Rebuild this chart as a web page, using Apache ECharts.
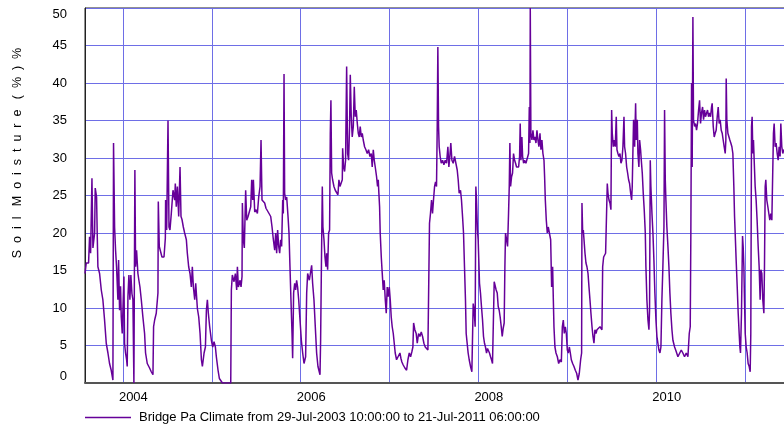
<!DOCTYPE html>
<html>
<head>
<meta charset="utf-8">
<script src="https://cdn.jsdelivr.net/npm/echarts@6/dist/echarts.min.js"></script>
<style>
html,body{margin:0;padding:0;background:#fff;}
#chart{width:784px;height:429px;}
</style>
</head>
<body>
<div id="chart"></div>
<script>
// Time of each reading (decimal years) and soil moisture (%)
const years = [
2003.574,2003.588,2003.614,2003.625,2003.637,2003.652,2003.663,2003.682,2003.689,2003.704,2003.712,2003.719,2003.738,2003.757,2003.775,2003.794,2003.813,2003.832,2003.850,2003.869,2003.888,2003.895,2003.907,2003.918,2003.929,2003.944,2003.952,2003.963,2003.974,2003.982,2003.993,2004.004,2004.012,2004.019,2004.030,2004.042,2004.049,2004.057,2004.068,2004.079,2004.090,2004.102,2004.113,2004.124,2004.135,2004.143,2004.154,2004.169,2004.180,2004.192,2004.207,2004.225,2004.244,2004.255,2004.274,2004.300,2004.319,2004.338,2004.345,2004.357,2004.375,2004.394,2004.398,2004.409,2004.420,2004.439,2004.462,2004.477,2004.480,2004.492,2004.507,2004.518,2004.529,2004.544,2004.563,2004.582,2004.589,2004.600,2004.612,2004.627,2004.642,2004.653,2004.664,2004.679,2004.694,2004.713,2004.724,2004.739,2004.754,2004.769,2004.780,2004.792,2004.807,2004.818,2004.837,2004.852,2004.867,2004.882,
2004.893,2004.912,2004.927,2004.938,2004.949,2004.960,2004.975,2004.994,2005.009,2005.024,2005.039,2005.050,2005.069,2005.084,2005.099,2005.118,2005.212,2005.219,2005.230,2005.249,2005.264,2005.279,2005.287,2005.298,2005.317,2005.328,2005.339,2005.343,2005.354,2005.365,2005.380,2005.392,2005.407,2005.422,2005.437,2005.448,2005.459,2005.467,2005.482,2005.497,2005.512,2005.527,2005.542,2005.553,2005.564,2005.579,2005.594,2005.609,2005.624,2005.643,2005.662,2005.677,2005.692,2005.707,2005.718,2005.729,2005.740,2005.752,2005.763,2005.774,2005.785,2005.797,2005.804,2005.812,2005.819,2005.830,2005.842,2005.857,2005.868,2005.879,2005.890,2005.902,2005.909,2005.920,2005.932,2005.943,2005.954,2005.965,2005.977,2005.992,2006.007,2006.022,2006.037,2006.055,2006.067,2006.078,2006.097,2006.123,2006.134,2006.149,2006.164,2006.179,2006.194,
2006.217,2006.224,2006.232,2006.243,2006.250,2006.262,2006.273,2006.284,2006.292,2006.303,2006.314,2006.325,2006.333,2006.340,2006.348,2006.359,2006.374,2006.389,2006.404,2006.419,2006.430,2006.442,2006.457,2006.468,2006.472,2006.483,2006.494,2006.505,2006.517,2006.528,2006.539,2006.550,2006.558,2006.569,2006.580,2006.592,2006.603,2006.614,2006.625,2006.637,2006.648,2006.659,2006.670,2006.682,2006.693,2006.704,2006.719,2006.734,2006.749,2006.764,2006.779,2006.794,2006.805,2006.817,2006.828,2006.839,2006.854,2006.865,2006.873,2006.880,2006.888,2006.895,2006.907,2006.918,2006.929,2006.940,2006.952,2006.963,2006.974,2006.985,2006.997,2007.008,2007.019,2007.030,2007.042,2007.053,2007.064,2007.079,2007.098,2007.117,2007.128,2007.139,2007.154,2007.173,2007.192,2007.207,2007.222,2007.237,2007.252,2007.263,2007.271,2007.285,2007.300,2007.312,2007.327,2007.342,2007.357,2007.372,2007.387,2007.402,2007.417,2007.432,2007.443,2007.450,2007.461,2007.473,
2007.484,2007.495,2007.507,2007.518,2007.529,2007.537,2007.544,2007.552,2007.559,2007.570,2007.582,2007.597,2007.612,2007.627,2007.642,2007.657,2007.668,2007.679,2007.690,2007.702,2007.717,2007.732,2007.747,2007.762,2007.773,2007.784,2007.799,2007.810,2007.822,2007.833,2007.844,2007.855,2007.863,2007.874,2007.885,2007.897,2007.912,2007.927,2007.934,2007.942,2007.953,2007.964,2007.972,2007.979,2007.990,2007.998,2008.005,2008.013,2008.024,2008.035,2008.047,2008.058,2008.069,2008.080,2008.092,2008.103,2008.114,2008.125,2008.137,2008.148,2008.159,2008.170,2008.178,2008.189,2008.200,2008.212,2008.223,2008.234,2008.245,2008.257,2008.268,2008.279,2008.290,2008.298,2008.305,2008.317,2008.328,2008.339,2008.347,2008.354,2008.362,2008.373,2008.384,2008.395,2008.407,2008.418,2008.429,2008.440,2008.452,2008.463,2008.470,2008.478,2008.489,2008.497,2008.508,2008.519,2008.534,2008.549,2008.564,2008.572,2008.579,2008.583,2008.590,2008.602,2008.613,2008.624,2008.635,2008.647,2008.658,2008.669,2008.680,2008.692,2008.703,2008.714,2008.725,2008.737,2008.744,2008.752,2008.763,2008.774,2008.785,
2008.800,2008.812,2008.823,2008.834,2008.842,2008.849,2008.860,2008.872,2008.887,2008.902,2008.917,2008.932,2008.943,2008.954,2008.965,2008.977,2008.988,2008.999,2009.010,2009.022,2009.033,2009.044,2009.059,2009.074,2009.089,2009.104,2009.119,2009.134,2009.149,2009.160,2009.164,2009.172,2009.179,2009.187,2009.198,2009.209,2009.220,2009.232,2009.243,2009.254,2009.265,2009.277,2009.288,2009.299,2009.310,2009.322,2009.333,2009.344,2009.355,2009.367,2009.378,2009.389,2009.397,2009.408,2009.419,2009.430,2009.442,2009.449,2009.457,2009.468,2009.479,2009.490,2009.498,2009.505,2009.517,2009.528,2009.539,2009.550,2009.558,2009.569,2009.580,2009.592,2009.603,2009.614,2009.625,2009.637,2009.644,2009.655,2009.667,2009.678,2009.689,2009.700,2009.712,2009.723,2009.730,2009.738,2009.745,2009.757,2009.768,2009.775,2009.787,2009.794,2009.805,2009.813,2009.824,2009.832,2009.843,2009.854,2009.865,2009.877,2009.884,2009.895,2009.907,2009.918,2009.925,2009.933,2009.940,2009.952,2009.963,2009.974,2009.985,2009.997,2010.008,2010.019,2010.030,2010.042,2010.053,2010.064,2010.075,2010.087,
2010.094,2010.102,2010.109,2010.120,2010.132,2010.143,2010.154,2010.165,2010.177,2010.188,2010.207,2010.225,2010.244,2010.263,2010.282,2010.300,2010.319,2010.338,2010.357,2010.372,2010.383,2010.390,2010.398,2010.405,2010.413,2010.420,2010.432,2010.443,2010.454,2010.465,2010.477,2010.488,2010.499,2010.510,2010.522,2010.533,2010.544,2010.555,2010.567,2010.578,2010.589,2010.600,2010.612,2010.623,2010.630,2010.642,2010.653,2010.664,2010.675,2010.687,2010.698,2010.709,2010.720,2010.732,2010.743,2010.754,2010.765,2010.777,2010.784,2010.788,2010.795,2010.807,2010.818,2010.829,2010.840,2010.852,2010.863,2010.874,2010.882,2010.889,2010.900,2010.912,2010.923,2010.934,2010.942,2010.949,2010.960,2010.972,2010.979,2010.987,2010.994,2011.002,2011.013,2011.024,2011.035,2011.047,2011.058,2011.065,2011.073,2011.080,2011.088,2011.095,2011.103,2011.114,2011.125,2011.136,2011.148,2011.159,2011.170,2011.178,2011.189,2011.200,2011.212,2011.219,2011.227,2011.234,2011.245,2011.257,2011.268,2011.279,2011.290,2011.302,2011.313,2011.320,2011.328,2011.339,2011.350,2011.362,2011.373,2011.384,2011.395,2011.403,2011.414,2011.425,2011.437,2011.490,2011.553
];
const moisture = [
14.6,16.0,16.0,19.5,17.3,27.3,18.0,20.0,26.0,24.8,19.5,15.5,14.6,12.4,11.1,8.4,5.3,4.0,2.6,1.7,0.4,32.0,20.8,17.7,15.5,11.1,16.4,9.7,12.9,8.8,6.6,11.1,14.2,5.3,4.0,3.1,2.2,11.5,14.4,11.1,14.4,11.9,11.1,0,28.4,15.5,17.7,14.6,13.7,12.8,11.1,8.8,6.6,4.0,2.6,2.0,1.5,1.1,7.5,8.4,9.3,12.0,24.2,18.2,18.0,16.8,16.8,19.3,24.4,20.4,35.0,20.8,20.4,22.6,25.7,24.4,26.6,23.5,26.2,22.2,28.8,22.2,21.8,20.8,20.0,19.1,17.3,15.5,14.6,12.8,15.5,12.8,11.1,13.3,9.9,8.8,6.6,3.1,
2.2,4.0,4.8,9.7,11.1,9.3,7.5,5.7,4.8,5.5,4.8,3.5,1.7,0.6,0.4,0,0,12.4,14.4,13.5,14.6,12.4,15.5,12.8,13.7,12.8,14.2,24.0,19.1,18.0,25.7,21.7,22.2,22.2,23.5,27.1,24.4,27.1,22.8,23.1,22.6,24.8,26.2,32.4,24.4,24.4,24.0,23.3,23.1,22.6,22.2,20.8,19.1,17.7,20.0,17.3,20.4,18.2,17.3,19.1,18.2,24.4,22.6,41.2,25.3,24.4,24.8,22.2,20.0,15.5,11.1,6.6,3.3,12.0,13.3,12.4,13.7,12.8,11.1,8.4,5.7,4.0,2.6,3.5,12.0,14.6,13.7,15.7,13.3,11.1,7.5,4.0,2.2,
1.1,5.7,14.6,26.2,20.8,19.1,16.8,15.5,17.3,15.1,20.0,20.4,33.3,37.7,28.0,27.1,26.2,25.7,25.5,25.1,27.1,26.2,26.0,27.1,31.3,28.8,28.2,29.7,42.2,30.6,29.7,34.2,41.1,35.5,32.8,34.2,39.5,35.5,36.4,34.6,33.3,32.8,34.2,32.8,33.3,32.4,31.5,31.1,30.6,31.1,30.2,30.6,28.8,31.1,29.7,28.8,27.5,26.2,27.1,25.3,23.5,20.0,16.8,14.6,12.4,13.7,11.1,9.3,12.8,11.5,12.8,11.1,8.8,7.5,6.6,5.3,4.0,3.1,3.3,4.0,3.3,2.8,2.4,2.0,1.7,3.1,4.0,3.5,4.2,4.8,8.0,7.1,6.6,5.3,6.6,6.2,6.8,6.2,5.3,4.8,4.6,4.4,4.2,21.3,22.6,24.4,
22.6,24.4,26.2,26.8,26.2,34.2,44.8,34.2,31.5,30.2,29.3,29.7,29.1,29.7,29.3,31.5,28.8,30.2,32.0,29.7,29.3,30.2,29.3,28.4,27.1,25.3,25.7,24.4,22.2,20.0,15.5,11.1,6.6,5.3,4.0,3.1,2.2,1.5,1.3,10.6,9.7,7.5,26.2,24.4,20.4,19.1,16.4,13.3,12.0,10.2,8.4,6.2,5.3,4.8,4.0,4.6,4.4,4.0,3.5,3.1,2.6,2.4,13.5,13.3,12.4,12.0,10.2,9.7,8.8,7.5,6.2,7.3,8.0,15.5,20.0,19.1,18.2,22.6,26.2,32.0,26.2,27.5,28.0,30.6,29.7,29.3,28.8,28.6,28.8,30.2,34.6,29.7,32.8,30.2,29.3,29.7,29.3,29.1,30.6,36.8,32.0,50.0,33.3,32.4,33.7,32.4,32.8,32.0,33.7,32.4,31.5,33.3,31.1,32.4,30.6,29.7,27.5,24.4,21.7,20.0,20.8,
20.8,19.1,12.8,15.5,11.1,7.5,4.8,4.0,3.5,2.6,3.1,2.8,7.5,8.4,6.6,7.5,6.6,4.4,4.0,4.8,4.0,3.1,2.6,2.2,1.7,1.3,0.4,1.3,3.1,4.0,24.0,20.0,20.4,19.1,17.3,16.0,15.5,14.6,12.8,11.1,9.3,7.5,6.2,5.3,7.1,6.6,7.1,7.3,7.1,7.5,7.7,7.1,15.5,16.8,16.8,17.3,17.3,26.6,25.3,24.4,24.0,23.1,36.4,33.3,31.5,32.4,31.5,35.5,31.1,30.6,30.2,30.6,29.3,29.7,31.5,35.5,31.5,30.6,28.8,28.0,27.1,26.6,25.3,24.4,26.2,31.1,35.1,31.5,37.3,32.4,35.1,30.6,28.8,32.4,31.1,29.7,28.0,25.3,23.1,20.0,15.5,11.1,8.4,7.1,9.7,29.7,26.2,22.6,20.0,16.4,12.0,8.4,6.2,5.3,4.4,4.0,4.8,11.1,15.5,20.8,
36.4,27.1,24.4,20.8,18.2,15.5,12.0,9.3,7.1,5.7,4.8,4.2,3.5,3.3,4.4,4.0,3.5,4.0,3.5,6.6,7.5,20.0,40.0,28.8,48.8,35.1,34.2,34.6,33.7,34.6,36.4,37.7,34.6,36.0,36.8,35.1,36.4,35.5,36.0,36.4,35.5,36.0,35.5,36.8,37.3,34.2,32.8,33.3,33.7,35.5,36.8,34.6,35.1,33.7,33.3,32.4,31.5,30.6,32.4,40.6,35.1,33.3,33.3,32.4,32.0,31.5,30.6,26.2,22.2,20.0,16.4,12.8,9.3,6.6,4.8,4.0,9.3,19.6,18.2,15.5,11.1,6.6,4.8,4.0,2.6,2.2,1.5,6.6,34.2,35.5,30.6,32.4,29.7,26.2,24.4,21.7,18.2,15.5,11.1,15.1,14.6,11.1,9.3,15.5,26.2,27.1,24.4,23.5,22.6,21.7,22.6,21.7,21.7,33.3,34.6,31.5,32.0,30.6,29.7,31.5,30.2,34.6,31.5,30.6,31.1,30.5,30.0
];
const yTicks = [0, 5, 10, 15, 20, 25, 30, 35, 40, 45, 50];
const seriesName = 'Bridge Pa Climate from 29-Jul-2003 10:00:00 to 21-Jul-2011 06:00:00';
const yAxisTitle = 'S  o  i  l   M  o  i  s  t  u  r  e   (  %  )  %';
const startTime = Date.UTC(2003, 6, 29, 10, 0, 0);
const endTime = Date.UTC(2011, 6, 21, 6, 0, 0);

function toTime(y) {
  const yr = Math.floor(y);
  const s = Date.UTC(yr, 0, 1), e = Date.UTC(yr + 1, 0, 1);
  return s + (y - yr) * (e - s);
}
const data = years.map((y, i) => [toTime(y), moisture[i]]);

const FONT = '"Liberation Sans", Arial, sans-serif';
const GRIDC = '#6e6ee6';
const chart = echarts.init(document.getElementById('chart'), null, {renderer: 'canvas'});
chart.setOption({
  animation: false,
  backgroundColor: '#ffffff',
  grid: {
    left: 85, top: 8, width: 709, height: 375,
    show: true, borderColor: '#222', borderWidth: 1, backgroundColor: 'transparent',
    containLabel: false,
    outerBoundsMode: 'none'
  },
  xAxis: {
    type: 'time',
    min: startTime, max: endTime,
    splitNumber: 8,
    minInterval: 360 * 864e5,
    maxInterval: 370 * 864e5,
    axisLine: {show: true, lineStyle: {color: '#555', width: 2}},
    axisTick: {show: false},
    splitLine: {show: true, lineStyle: {color: GRIDC, width: 1, opacity: 1}},
    axisLabel: {
      showMinLabel: false, showMaxLabel: false,
      color: '#000', fontSize: 13, fontFamily: FONT, fontWeight: 'normal',
      margin: 8, padding: [0, 0, 0, 21],
      formatter: function (v) {
        const d = new Date(v);
        const y = d.getFullYear();
        return (d.getMonth() === 0 && y % 2 === 0) ? String(y) : '';
      }
    }
  },
  yAxis: {
    type: 'value', min: yTicks[0], max: yTicks[yTicks.length - 1], interval: yTicks[1] - yTicks[0],
    axisLine: {show: true, lineStyle: {color: '#222', width: 1}},
    axisTick: {show: false},
    splitLine: {show: true, lineStyle: {color: GRIDC, width: 1}},
    axisLabel: {
      color: '#000', fontSize: 13, fontFamily: FONT, margin: 18,
      verticalAlignMinLabel: 'bottom', verticalAlignMaxLabel: 'top'
    }
  },
  legend: {
    data: [seriesName],
    left: 85, top: 411, padding: 0,
    icon: 'rect',
    itemWidth: 46, itemHeight: 1.5, itemGap: 10,
    textStyle: {color: '#000', fontSize: 13, fontFamily: FONT, padding: [0, 0, 0, 3]}
  },
  graphic: [{
    type: 'text',
    x: 18, y: 153,
    rotation: Math.PI / 2,
    style: {
      text: yAxisTitle,
      fill: '#000',
      font: '12.5px ' + FONT,
      textAlign: 'center',
      textVerticalAlign: 'middle'
    }
  }],
  series: [{
    name: seriesName,
    type: 'line',
    data: data,
    symbol: 'none',
    showSymbol: false,
    sampling: null,
    lineStyle: {color: '#660099', width: 1.5},
    itemStyle: {color: '#660099'},
    clip: true
  }]
});
</script>
</body>
</html>
